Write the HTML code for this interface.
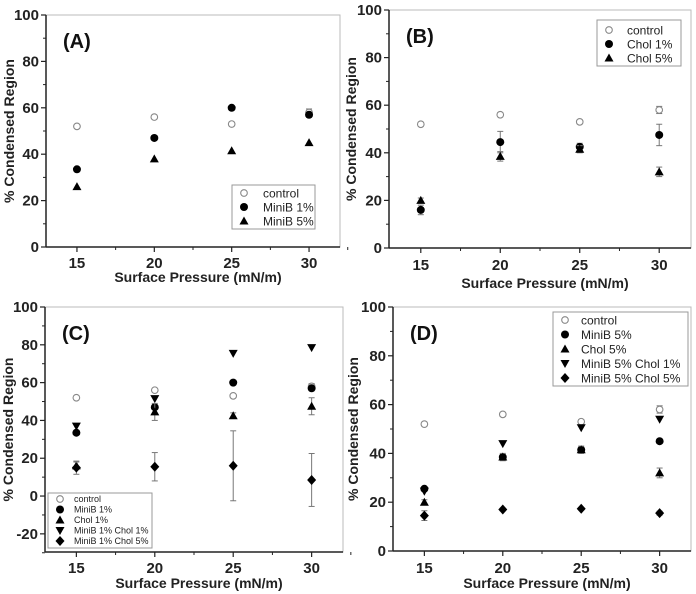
<!DOCTYPE html>
<html><head><meta charset="utf-8"><style>
body{margin:0;background:#fff;width:696px;height:594px;overflow:hidden}
svg{display:block;font-family:"Liberation Sans",Arial,sans-serif}
</style></head><body>
<svg id="chart" width="696" height="594" viewBox="0 0 696 594" xmlns="http://www.w3.org/2000/svg"></svg>
<script>
const xCategories=[15,20,25,30];
const controlVals=[52,56,53,58];
const controlErr=[0.8,0.8,0.8,1.5];
const aMiniB1=[33.5,47,60,57];
const aMiniB5=[26,38,41.5,45];
const bChol1=[16,44.5,42.5,47.5];
const bChol1Err=[2,4.5,1.5,4.5];
const bChol5=[20,38.5,41.5,32];
const bChol5Err=[1,2,1.5,2];
const cMiniB1=[33.5,47,60,57];
const cChol1=[16,44.5,42.5,47.5];
const cChol1Err=[2,4.5,1.5,4.5];
const cMB1Ch1=[37,51.5,75.5,78.5];
const cMB1Ch5=[15,15.5,16,8.5];
const cMB1Ch5Err=[3.5,7.5,18.5,14];
const dMiniB5=[25.5,38.5,41.5,45];
const dChol5=[20,38.5,41.5,32];
const dChol5Err=[1,1.5,1.5,2];
const dMB5Ch1=[24.5,44,50.5,54];
const dMB5Ch5=[14.5,17,17.3,15.5];
const dMB5Ch5Err=[2,0.5,0.5,0.8];
const yTicksA=[0,20,40,60,80,100];
const yTicksC=[-20,0,20,40,60,80,100];

const NS="http://www.w3.org/2000/svg";
const svg=document.getElementById('chart');
function el(tag,attrs,parent){const e=document.createElementNS(NS,tag);for(const k in attrs)e.setAttribute(k,attrs[k]);(parent||svg).appendChild(e);return e;}
function marker(g,shape,cx,cy){
  let m;
  if(shape==='open'){m=el('circle',{cx,cy,r:3.3,fill:'#fff',stroke:'#888','stroke-width':1.1},g);}
  else if(shape==='circle'){m=el('circle',{cx,cy,r:4,fill:'#000'},g);}
  else if(shape==='tri'){m=el('polygon',{points:`${cx},${cy-4.5} ${cx+4.5},${cy+3.5} ${cx-4.5},${cy+3.5}`,fill:'#000'},g);}
  else if(shape==='dtri'){m=el('polygon',{points:`${cx},${cy+4.5} ${cx+4.5},${cy-3.5} ${cx-4.5},${cy-3.5}`,fill:'#000'},g);}
  else {m=el('polygon',{points:`${cx},${cy-5} ${cx+4.5},${cy} ${cx},${cy+5} ${cx-4.5},${cy}`,fill:'#000'},g);}
  return m;
}
function panel(p){
  const g=el('g',{});
  
  
  const sx=v=>p.x0+(v-13)/(32-13)*(p.x1-p.x0);
  const sy=v=>p.yb+(v-p.ymin)/(p.ymax-p.ymin)*(p.yt-p.yb);
  const frame=el('rect',{x:p.x0,y:p.yt,width:p.x1-p.x0,height:p.yb-p.yt,fill:'none',stroke:'#bbb','stroke-width':1},g);
  
  
  el('line',{x1:p.x0,y1:p.yt,x2:p.x0,y2:p.yb,stroke:'#222','stroke-width':1.5},g);
  el('line',{x1:p.x0,y1:p.yb,x2:p.x1,y2:p.yb,stroke:'#222','stroke-width':1.5},g);
  p.yticks.forEach((t,i)=>{
    const y=sy(t);
    el('line',{x1:p.x0-5,y1:y,x2:p.x0,y2:y,stroke:'#222','stroke-width':1.2},g);
    if(i<p.yticks.length-1){const ym=sy(t+10);el('line',{x1:p.x0-3,y1:ym,x2:p.x0,y2:ym,stroke:'#222'},g);}
    const tx=el('text',{x:p.x0-7,y:y+5,'text-anchor':'end','font-size':15,'font-weight':'bold',fill:'#222'},g);
    tx.textContent=t;
    
    
  });
  if(p.ymin<p.yticks[0]){const ym=sy(p.yticks[0]-10);el('line',{x1:p.x0-3,y1:ym,x2:p.x0,y2:ym,stroke:'#222'},g);}
  xCategories.forEach(c=>{
    const x=sx(c);
    el('line',{x1:x,y1:p.yb,x2:x,y2:p.yb+5,stroke:'#222','stroke-width':1.2},g);
    const xm=sx(c+2.5);
    el('line',{x1:xm,y1:p.yb,x2:xm,y2:p.yb+3,stroke:'#222'},g);
    const tx=el('text',{x:x,y:p.tickY,'text-anchor':'middle','font-size':15,'font-weight':'bold',fill:'#222'},g);
    tx.textContent=c;
    
    
  });
  const xt=el('text',{x:(p.x0+p.x1)/2+5,y:p.titleY,'text-anchor':'middle','font-size':14,'font-weight':'bold',fill:'#222'},g);
  xt.textContent='Surface Pressure (mN/m)';
  
  
  const yc=(p.yt+p.yb)/2;
  const yt=el('text',{x:0,y:0,transform:`translate(${p.ytX},${yc}) rotate(-90)`,'text-anchor':'middle','font-size':14,'font-weight':'bold',fill:'#222'},g);
  yt.textContent='% Condensed Region';
  
  
  const lbl=el('text',{x:p.x0+17,y:p.yt+33,'font-size':20,'font-weight':'bold',fill:'#111'},g);
  lbl.textContent='('+p.id+')';
  
  
  p.series.forEach(s=>{
    const sg=el('g',{},g);
    
    
    s.vals.forEach((v,i)=>{
      const x=sx(xCategories[i]),y=sy(v);
      if(s.err){const e=s.err[i];const y1=sy(v+e),y2=sy(v-e);
        el('line',{x1:x,y1:y1,x2:x,y2:y2,stroke:'#777','stroke-width':1},sg);
        el('line',{x1:x-3,y1:y1,x2:x+3,y2:y1,stroke:'#777'},sg);
        el('line',{x1:x-3,y1:y2,x2:x+3,y2:y2,stroke:'#777'},sg);}
      const m=marker(sg,s.shape,x,y);
      
      
    });
  });
  const L=p.legend;
  const lg=el('g',{},g);
  
  
  el('rect',{x:L.x,y:L.y,width:L.w,height:L.h,fill:'#fff',stroke:'#999'},lg);
  p.series.forEach((s,i)=>{
    const ey=L.y+L.pad+i*L.step;
    const eg=el('g',{},lg);
    
    
    marker(eg,s.shape,L.x+12,ey);
    const t=el('text',{x:L.x+L.tx,y:ey+L.fs*0.36,'font-size':L.fs,fill:'#222'},eg);
    t.textContent=s.name;
  });
}
const ctrl={key:'control',name:'control',shape:'open',vals:controlVals,err:controlErr};
panel({id:'A',x0:46,x1:340,yt:15,yb:247,ymin:0,ymax:100,yticks:yTicksA,tickY:268,titleY:282,ytX:14,
 series:[ctrl,{key:'minib-1',name:'MiniB 1%',shape:'circle',vals:aMiniB1},{key:'minib-5',name:'MiniB 5%',shape:'tri',vals:aMiniB5}],
 legend:{x:232,y:185,w:83,h:44,pad:8,step:14,fs:12,tx:31}});
panel({id:'B',x0:389,x1:691,yt:10,yb:248,ymin:0,ymax:100,yticks:yTicksA,tickY:270,titleY:288,ytX:356,
 series:[ctrl,{key:'chol-1',name:'Chol 1%',shape:'circle',vals:bChol1,err:bChol1Err},{key:'chol-5',name:'Chol 5%',shape:'tri',vals:bChol5,err:bChol5Err}],
 legend:{x:597,y:20,w:84,h:46,pad:10,step:14,fs:12,tx:30}});
panel({id:'C',x0:45,x1:343,yt:307,yb:552,ymin:-29.6,ymax:100,yticks:yTicksC,tickY:573,titleY:588,ytX:13,
 series:[ctrl,{key:'minib-1',name:'MiniB 1%',shape:'circle',vals:cMiniB1},{key:'chol-1',name:'Chol 1%',shape:'tri',vals:cChol1,err:cChol1Err},{key:'minib1-chol1',name:'MiniB 1% Chol 1%',shape:'dtri',vals:cMB1Ch1},{key:'minib1-chol5',name:'MiniB 1% Chol 5%',shape:'diamond',vals:cMB1Ch5,err:cMB1Ch5Err}],
 legend:{x:48,y:493,w:104,h:55,pad:6,step:10.5,fs:9,tx:26}});
panel({id:'D',x0:393,x1:691,yt:307,yb:551,ymin:0,ymax:100,yticks:yTicksA,tickY:573,titleY:588,ytX:358,
 series:[ctrl,{key:'minib-5',name:'MiniB 5%',shape:'circle',vals:dMiniB5},{key:'chol-5',name:'Chol 5%',shape:'tri',vals:dChol5,err:dChol5Err},{key:'minib5-chol1',name:'MiniB 5% Chol 1%',shape:'dtri',vals:dMB5Ch1},{key:'minib5-chol5',name:'MiniB 5% Chol 5%',shape:'diamond',vals:dMB5Ch5,err:dMB5Ch5Err}],
 legend:{x:553,y:312,w:135,h:74,pad:8,step:14.5,fs:12,tx:28}});
</script>
</body></html>
